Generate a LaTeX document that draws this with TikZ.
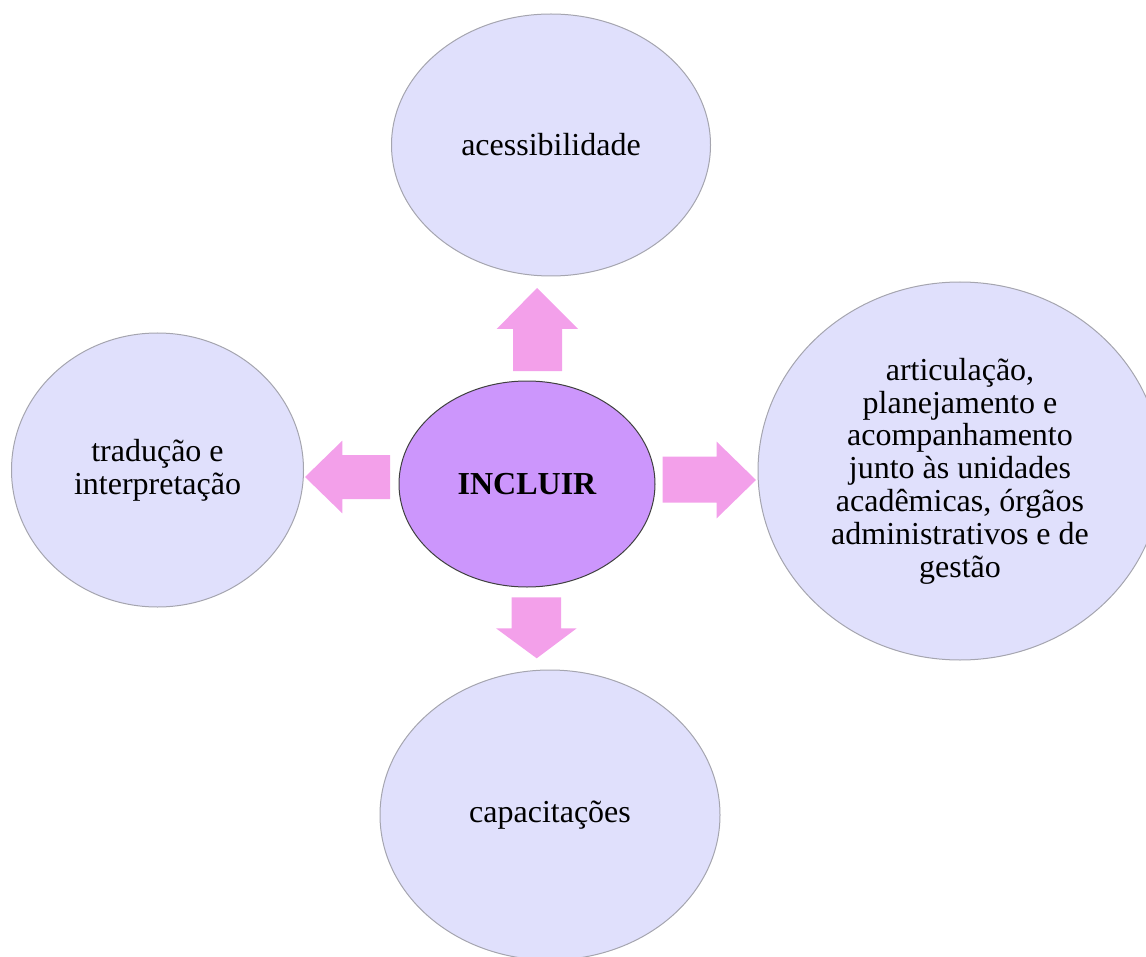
\documentclass[tikz,border=0pt]{standalone}
\usepackage{fontspec}
\setmainfont{Liberation Serif}
\usetikzlibrary{shapes.geometric}
\definecolor{bubblefill}{RGB}{224,224,252}
\definecolor{bubbleline}{RGB}{165,165,175}
\definecolor{corefill}{RGB}{204,150,252}
\definecolor{arrowpink}{RGB}{243,160,234}
\tikzset{
  bubble/.style={ellipse, draw=bubbleline, line width=0.5pt, fill=bubblefill,
    inner sep=0pt, align=center, font=\fontsize{16}{16.4}\selectfont},
  core/.style={ellipse, draw=black!75, line width=0.5pt, fill=corefill,
    inner sep=0pt, font=\fontsize{16}{16.4}\selectfont\bfseries},
  blockarrow/.style={fill=arrowpink}
}
\begin{document}
\begin{tikzpicture}[x=0.5pt,y=-0.5pt]
\useasboundingbox (0,0) rectangle (1146,957);

% surrounding themes
\node[bubble, minimum width=159.5pt, minimum height=131pt] (acc) at (551,145) {acessibilidade};
\node[bubble, minimum width=146pt, minimum height=137pt] (trad) at (157.5,470) {tradução e\\interpretação};
\node[bubble, minimum width=202pt, minimum height=189pt] (art) at (960,471)
  {articulação,\\planejamento e\\acompanhamento\\junto às unidades\\acadêmicas, órgãos\\administrativos e de\\gestão};
\node[bubble, minimum width=170pt, minimum height=145pt] (cap) at (550,815) {capacitações};

% central idea
\node[core, minimum width=128pt, minimum height=103pt] (inc) at (527,484) {INCLUIR};

% block arrows pointing outwards
\fill[blockarrow] (513,371) -- (513,329) -- (496.7,329) -- (537,288) -- (578,329) -- (562,329) -- (562,371) -- cycle;
\fill[blockarrow] (390,455) -- (342.3,455) -- (342.3,440.7) -- (305,477) -- (342.3,513.3) -- (342.3,499) -- (390,499) -- cycle;
\fill[blockarrow] (662.7,456.7) -- (716.7,456.7) -- (716.7,441.7) -- (756,480) -- (716.7,518.3) -- (716.7,502.7) -- (662.7,502.7) -- cycle;
\fill[blockarrow] (511.7,597.3) -- (511.7,628.3) -- (496,628.3) -- (536.7,658.3) -- (576.7,628.3) -- (561,628.3) -- (561,597.3) -- cycle;
\end{tikzpicture}
\end{document}
